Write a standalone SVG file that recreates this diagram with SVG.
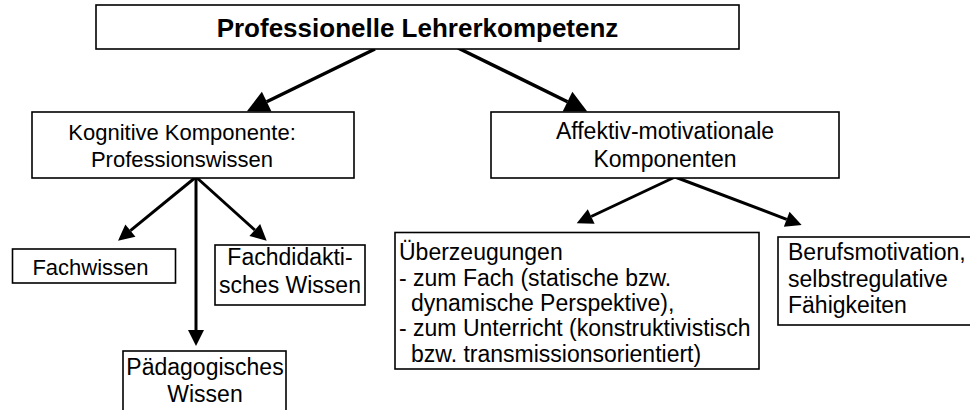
<svg xmlns="http://www.w3.org/2000/svg" width="970" height="410" viewBox="0 0 970 410">
<style>
.box{fill:#fff;stroke:#000;stroke-width:1.6}
.t{font-family:"Liberation Sans",Arial,sans-serif;font-size:23px;fill:#000}
.s22{font-size:22px}
.c{text-anchor:middle}
.title{font-family:"Liberation Sans",Arial,sans-serif;font-size:26px;font-weight:bold;text-anchor:middle;fill:#000}
.ln{stroke:#000;stroke-width:3.5;fill:none}
.ln2{stroke:#000;stroke-width:3;fill:none}
</style>
<defs>
<marker id="big" markerUnits="userSpaceOnUse" viewBox="0 -11 22 22" refX="0" refY="0" markerWidth="22" markerHeight="22" orient="auto" overflow="visible"><path d="M0,-11 L22,0 L0,11 z" fill="#000"/></marker>
<marker id="small" markerUnits="userSpaceOnUse" viewBox="0 -8 16 16" refX="0" refY="0" markerWidth="16" markerHeight="16" orient="auto" overflow="visible"><path d="M0,-8 L16,0 L0,8 z" fill="#000"/></marker>
</defs>
<rect width="970" height="410" fill="#fff"/>
<g id="connectors">
<line class="ln" x1="375" y1="49" x2="266.7" y2="101.7" marker-end="url(#big)"/>
<line class="ln" x1="458" y1="48" x2="567.5" y2="101.7" marker-end="url(#big)"/>
<line class="ln2" x1="196" y1="177" x2="130.4" y2="230.6" marker-end="url(#small)"/>
<line class="ln2" x1="196" y1="177" x2="196" y2="330" marker-end="url(#small)"/>
<line class="ln2" x1="196" y1="177" x2="254.8" y2="230" marker-end="url(#small)"/>
<line class="ln2" x1="675" y1="177" x2="591.2" y2="216.5" marker-end="url(#small)"/>
<line class="ln2" x1="675" y1="177" x2="786.7" y2="219.3" marker-end="url(#small)"/>
</g>
<g id="n-top">
<rect class="box" x="96" y="5" width="643" height="44"/>
<text class="title" x="417.5" y="37">Professionelle Lehrerkompetenz</text>
</g>
<g id="n-kognitiv">
<rect class="box" x="32" y="112" width="322" height="66"/>
<text class="t s22 c" x="182" y="140">Kognitive Komponente:</text>
<text class="t s22 c" x="182" y="167">Professionswissen</text>
</g>
<g id="n-affektiv">
<rect class="box" x="491" y="112" width="348" height="66"/>
<text class="t c" x="665" y="139">Affektiv-motivationale</text>
<text class="t c" x="665" y="167">Komponenten</text>
</g>
<g id="n-fachwissen">
<rect class="box" x="12.5" y="249" width="163" height="34"/>
<text class="t s22 c" x="90.5" y="275">Fachwissen</text>
</g>
<g id="n-fachdidaktik">
<rect class="box" x="215" y="245" width="150" height="60"/>
<text class="t c" x="290" y="265">Fachdidakti-</text>
<text class="t c" x="290" y="293">sches Wissen</text>
</g>
<g id="n-paedagogik">
<rect class="box" x="123" y="351" width="163" height="70"/>
<text class="t c" x="205" y="375">Pädagogisches</text>
<text class="t c" x="205" y="402">Wissen</text>
</g>
<g id="n-ueberzeugungen">
<rect class="box" x="395" y="232.5" width="364" height="136.5"/>
<text class="t" x="399" y="260">Überzeugungen</text>
<text class="t" x="399" y="285.5">- zum Fach (statische bzw.</text>
<text class="t" x="411" y="310.5">dynamische Perspektive),</text>
<text class="t" x="399" y="336">- zum Unterricht (konstruktivistisch</text>
<text class="t" x="411" y="361.5">bzw. transmissionsorientiert)</text>
</g>
<g id="n-beruf">
<rect class="box" x="778" y="237" width="200" height="88"/>
<text class="t" x="788" y="260">Berufsmotivation,</text>
<text class="t" x="788" y="286.5">selbstregulative</text>
<text class="t" x="788" y="313">Fähigkeiten</text>
</g>
</svg>
